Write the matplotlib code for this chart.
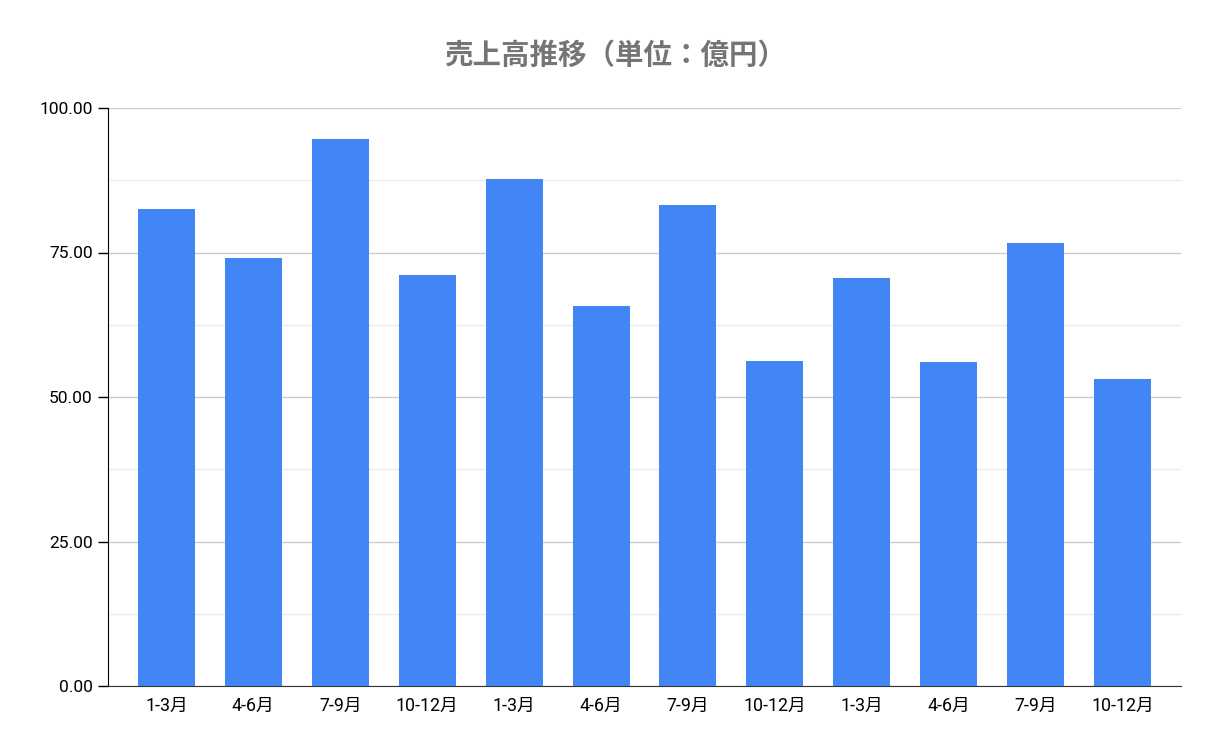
import matplotlib.pyplot as plt
from matplotlib.ticker import MultipleLocator

plt.rcParams['font.family'] = ['Roboto', 'Noto Sans CJK JP', 'DejaVu Sans']

# quarterly sales (100 million yen), three years
quarters = ['1-3月', '4-6月', '7-9月', '10-12月'] * 3
sales = [82.5, 74.0, 94.6, 71.1, 87.8, 65.7, 83.2, 56.2, 70.6, 56.0, 76.6, 53.1]

fig = plt.figure(figsize=(12.19, 7.54), dpi=100)
ax = fig.add_axes([108 / 1219, 1 - 686 / 754, (1181 - 108) / 1219, (686 - 108) / 754])

x = range(len(sales))
ax.bar(x, sales, width=0.655, color='#4285f4', zorder=3)

ax.set_xlim(-0.672, len(sales) - 1 + 0.672)
ax.set_ylim(0, 100)
ax.yaxis.set_major_locator(MultipleLocator(25))
ax.yaxis.set_minor_locator(MultipleLocator(12.5))
ax.set_yticklabels([f'{v:.2f}' for v in ax.get_yticks()])
ax.set_xticks(list(x))
ax.set_xticklabels(quarters)

ax.grid(axis='y', which='major', color='#cccccc', linewidth=1, zorder=0)
ax.grid(axis='y', which='minor', color='#ebebeb', linewidth=1, zorder=0)

for s in ['top', 'right']:
    ax.spines[s].set_visible(False)
ax.spines['left'].set_color('black')
ax.spines['bottom'].set_color('#333333')

ax.tick_params(axis='y', which='major', length=7, width=1, labelsize=12.5, pad=4, colors='black')
ax.tick_params(axis='y', which='minor', length=0)
ax.tick_params(axis='x', length=0, labelsize=12.8, pad=8, colors='black')

fig.text(0.505, 1 - 56 / 754, '売上高推移（単位：億円）', ha='center', va='center',
         fontsize=20.5, fontweight='bold', color='#757575',
         family=['Noto Sans CJK JP', 'DejaVu Sans'])

fig.savefig('out.png', dpi=100)
